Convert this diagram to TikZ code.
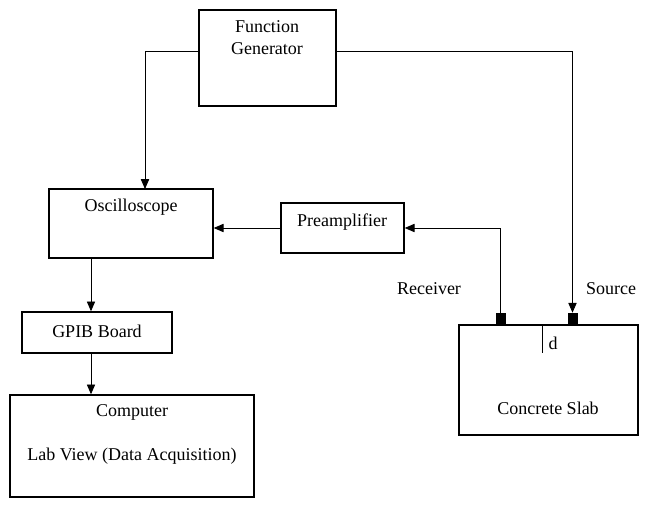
\documentclass[tikz,border=0pt]{standalone}
\usepackage{fontspec}
\setmainfont{Liberation Serif}
\usepackage{tikz}
\usetikzlibrary{fit,arrows.meta}

\tikzset{
    box/.style={draw,line width=1pt,inner sep=0pt},
    lbl/.style={inner sep=0pt,align=center,font=\fontsize{12}{14.6}\selectfont},
    arr/.style={line width=0.6pt,-{Triangle[length=6.5pt,width=5.5pt]}},
    pad/.style={fill=black,draw=black,inner sep=0pt}
}

\begin{document}
\begin{tikzpicture}[x=0.6667pt,y=-0.6667pt]
    \useasboundingbox (0,0) rectangle (645,506);
    % boxes
    \node[box,fit={(199,10) (336,106)}] (fg) {};
    \node[box,fit={(49,189) (213,258)}] (osc) {};
    \node[box,fit={(281,203) (404,253)}] (pre) {};
    \node[box,fit={(22,312) (172,353)}] (gpib) {};
    \node[box,fit={(10,395) (254,497)}] (comp) {};
    \node[box,fit={(459,325) (638,435)}] (slab) {};
    \node[pad,fit={(496,313) (505,325)}] (rcv) {};
    \node[pad,fit={(568,313) (577,325)}] (src) {};
    % texts
    \node[lbl] (fgt) at (267,38) {Function\\Generator};
    \node[lbl] (osct) at (131,207) {Oscilloscope};
    \node[lbl] (pret) at (342,222) {Preamplifier};
    \node[lbl] (gpibt) at (97,331) {GPIB Board};
    \node[lbl] (compt) at (132,412) {Computer};
    \node[lbl] (labt) at (132,456) {Lab View (Data Acquisition)};
    \node[lbl] (slabt) at (548,408) {Concrete Slab};
    \node[lbl] (rcvt) at (429,289) {Receiver};
    \node[lbl] (srct) at (611,289) {Source};
    \node[lbl] (dt) at (553,343) {d};
    \coordinate (dtop) at (542,325);
    \coordinate (dbot) at (542,353);
    \draw[line width=0.6pt] (dtop) -- (dbot);
    % connectors
    \coordinate (fgL) at (199,51);
    \coordinate (fgR) at (336,51);
    \coordinate (oscin) at (145,189);
    \draw[arr] (fgL) -| (oscin);
    \draw[arr] (fgR) -| (src.north);
    \draw[arr] (rcv.north) |- (pre.east);
    \draw[arr] (pre.west) -- (pre.west -| osc.east);
    \draw[arr] (osc.south -| 91,0) -- (gpib.north -| 91,0);
    \draw[arr] (gpib.south -| 91,0) -- (comp.north -| 91,0);
\end{tikzpicture}
\end{document}
